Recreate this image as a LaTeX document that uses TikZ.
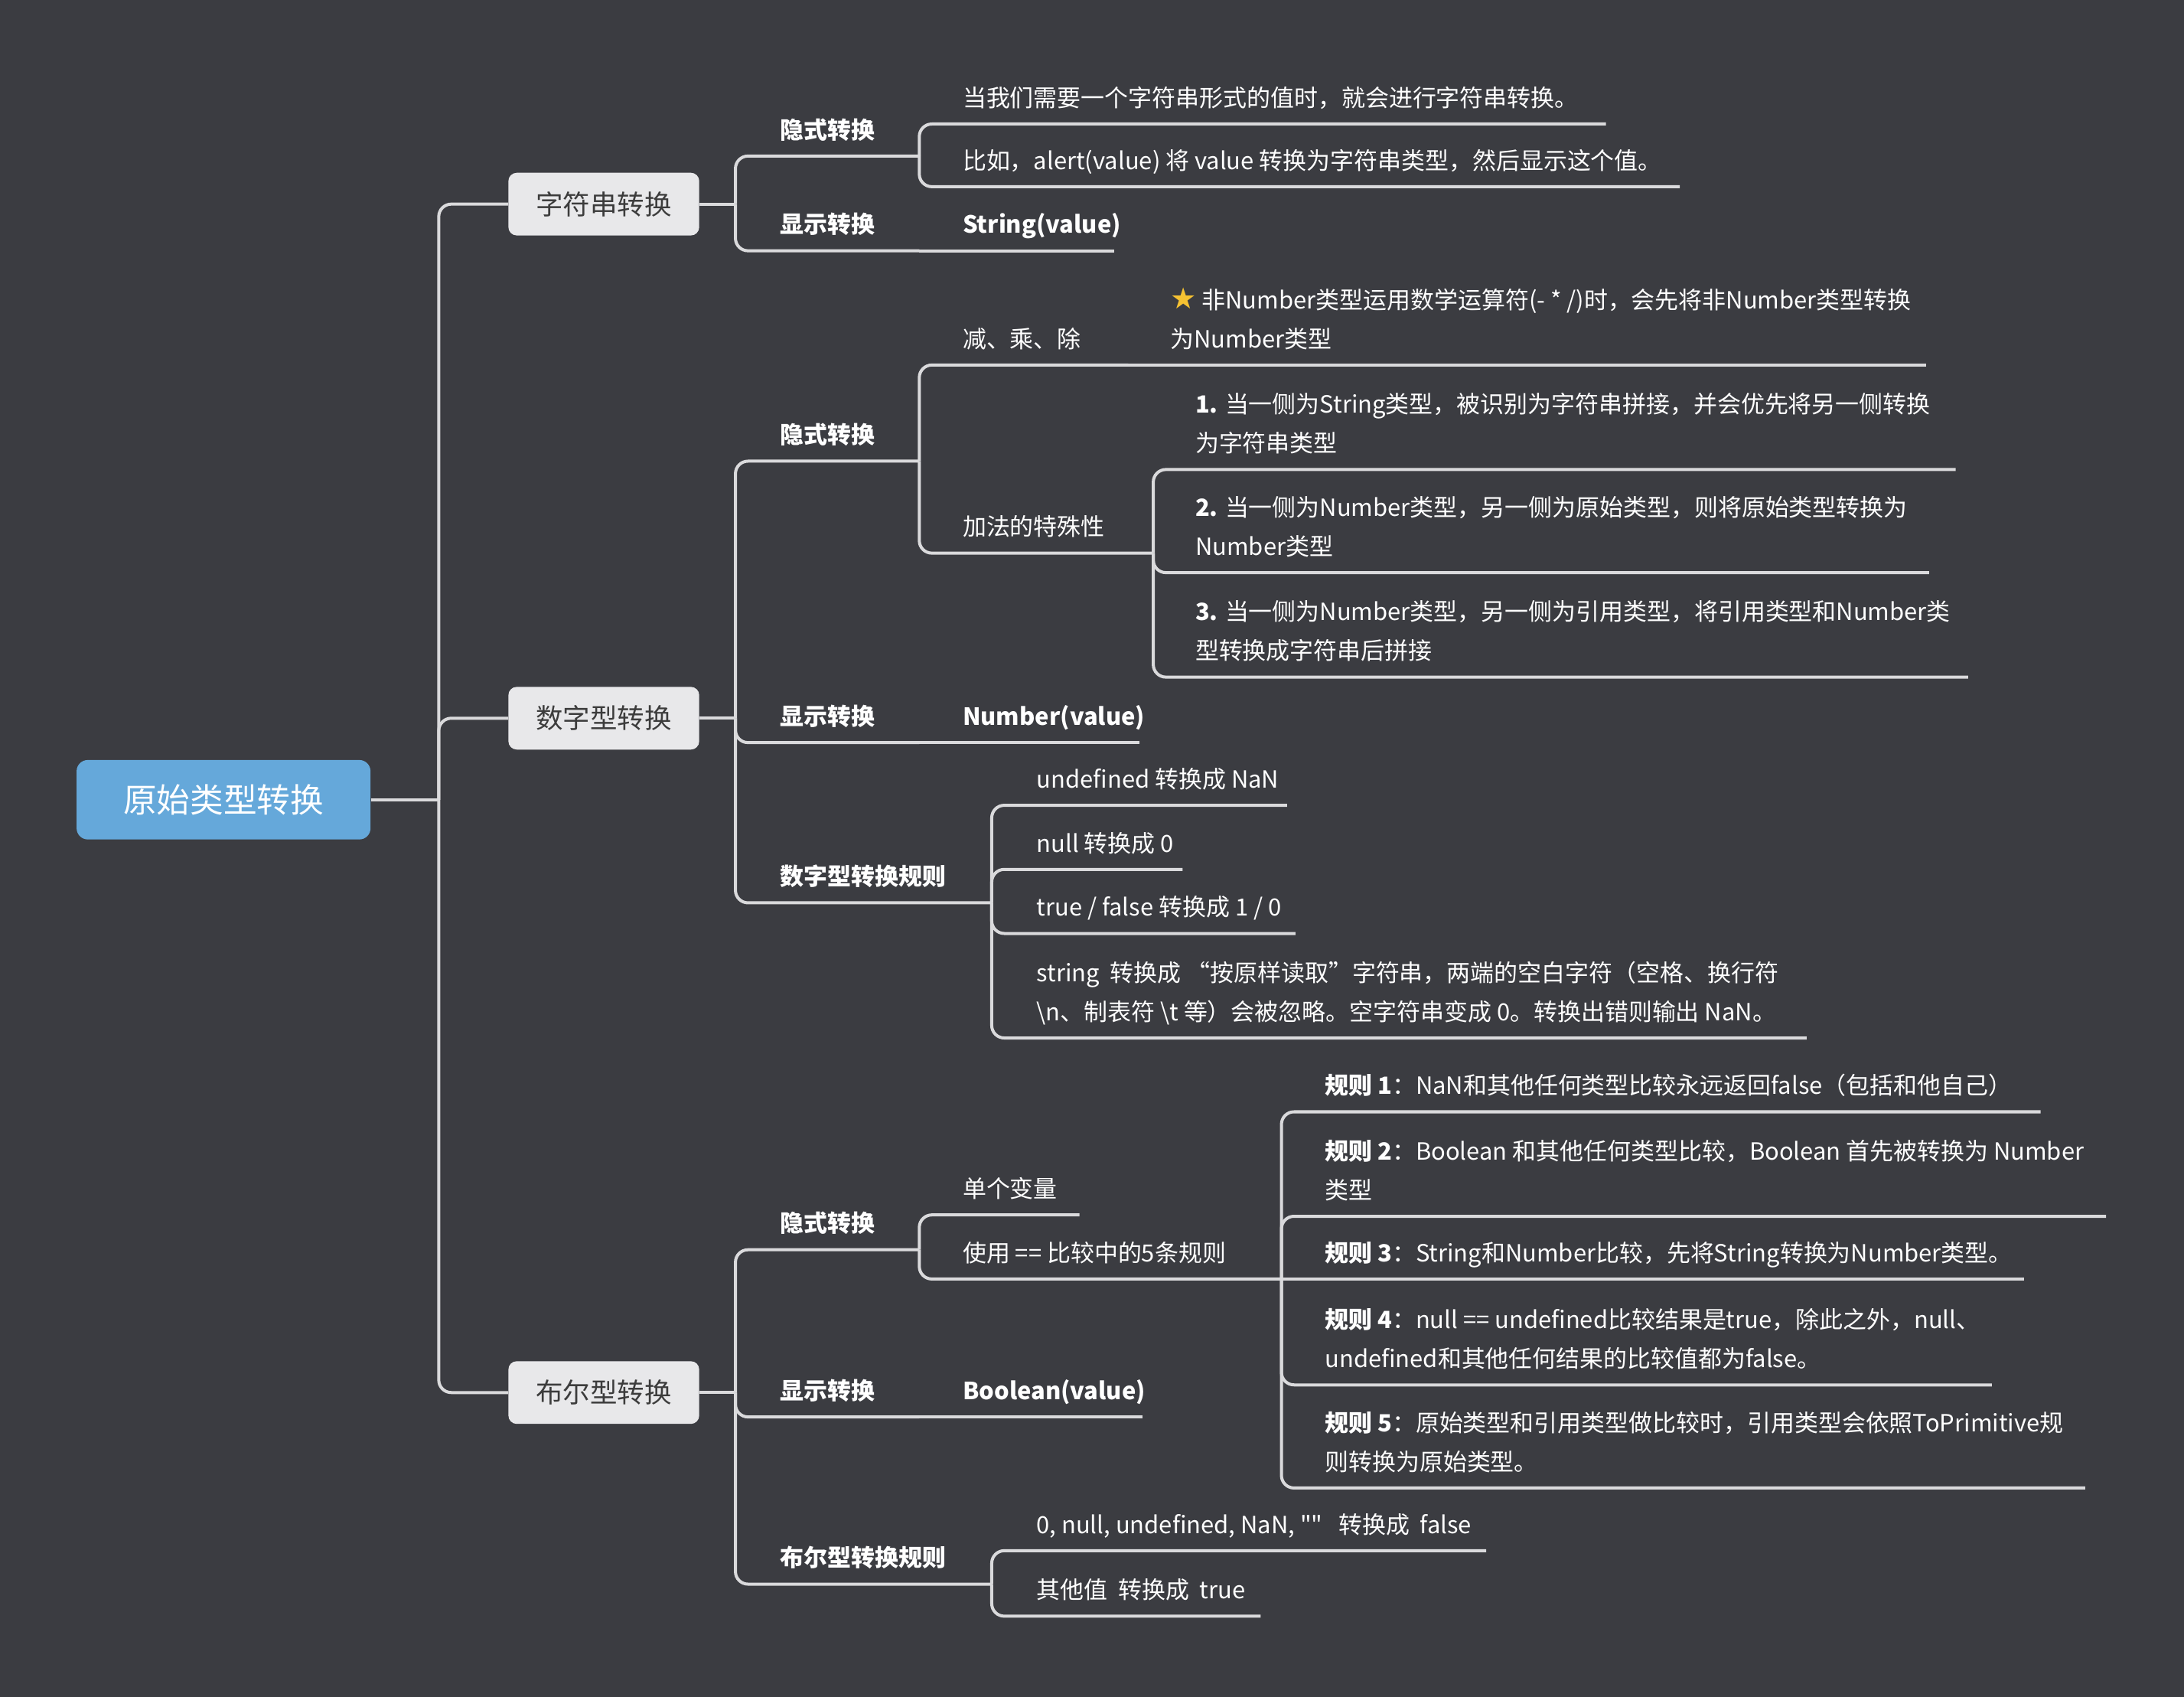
\documentclass[tikz,border=0pt]{standalone}
\usepackage{fontspec}
\setmainfont{Noto Sans CJK SC}
\newfontfamily\rawfont{Noto Sans CJK SC}
\newfontfamily\symfont{DejaVu Sans}
\definecolor{bgdark}{HTML}{3B3C41}
\definecolor{linegray}{HTML}{DADADC}
\definecolor{rootblue}{HTML}{65A8DA}
\definecolor{boxgray}{HTML}{E8E8EA}
\definecolor{boxtext}{HTML}{3C3C3C}
\definecolor{stary}{HTML}{F6C232}
\tikzset{
  link/.style={draw=linegray,line width=2.2pt,rounded corners=9pt},
  rootbox/.style={fill=rootblue,text=white,rounded corners=8pt,minimum width=211pt,minimum height=57pt,font=\fontsize{24}{28}\selectfont},
  mainbox/.style={fill=boxgray,text=boxtext,rounded corners=6pt,minimum width=137pt,minimum height=45pt,font=\fontsize{19.5}{24}\selectfont},
  subtopic/.style={anchor=base west,inner sep=0pt,text=white,font=\fontsize{17}{28}\selectfont\bfseries},
  leaf/.style={anchor=base west,inner sep=0pt,text=white,align=left,font=\fontsize{17}{28}\selectfont},
}
\begin{document}
\begin{tikzpicture}[x=1pt,y=-1pt]
  \useasboundingbox (0,0) rectangle (1568,1217.5);
  \fill[bgdark] (-5,-5) rectangle (1573,1223);
  % root and first level
  \node[rootbox] (root) at (160.5,574) {原始类型转换};
  \coordinate (hub) at (315,574);
  \node[mainbox] (str) at (433.5,146.5) {字符串转换};
  \node[mainbox] (num) at (433.5,515.5) {数字型转换};
  \node[mainbox] (bool) at (433.5,999.5) {布尔型转换};
  \coordinate (str-j) at (528,146.5);
  \coordinate (num-j) at (528,515.5);
  \coordinate (bool-j) at (528,999.5);
  \draw[link] (root) -- (hub);
  \draw[link] (hub) |- (str);
  \draw[link] (hub) |- (num);
  \draw[link] (hub) |- (bool);
  \draw[link] (str) -- (str-j);
  \draw[link] (num) -- (num-j);
  \draw[link] (bool) -- (bool-j);

  % string
  \node[subtopic] (s-imp-t) at (560,99.5) {隐式转换};
  \coordinate (s-imp) at (660,112);
  \node[subtopic] (s-exp-t) at (560,167.5) {显示转换};
  \coordinate (s-exp) at (660,180);
  \node[leaf] (s-imp-1-t) at (691,76.5) {当我们需要一个字符串形式的值时，就会进行字符串转换。};
  \coordinate (s-imp-1) at (1153,89);
  \node[leaf] (s-imp-2-t) at (691,121.5) {比如，alert(value) 将 value 转换为字符串类型，然后显示这个值。};
  \coordinate (s-imp-2) at (1206,134);
  \node[subtopic] (s-exp-1-t) at (691,167.5) {String(value)};
  \coordinate (s-exp-1) at (800,180);
  \draw[link] (str-j) |- (s-imp);
  \draw[link] (str-j) |- (s-exp);
  \draw[link] (s-imp) |- (s-imp-1);
  \draw[link] (s-imp) |- (s-imp-2);
  \draw[link] (s-exp) -- (s-exp-1);

  % number
  \node[subtopic] (n-imp-t) at (560,318.5) {隐式转换};
  \coordinate (n-imp) at (660,331);
  \node[subtopic] (n-exp-t) at (560,520.5) {显示转换};
  \coordinate (n-exp) at (660,533);
  \node[subtopic] (n-rule-t) at (560,635.5) {数字型转换规则};
  \coordinate (n-rule) at (712,648);
  \node[leaf] (n-sub-t) at (691,249.5) {减、乘、除};
  \coordinate (n-sub) at (810,262);
  \node[leaf] (n-sub-1-t) at (840,249.5) {{\symfont\fontsize{21}{28}\selectfont\color{stary}★} 非Number类型运用数学运算符(- * /)时，会先将非Number类型转换\\为Number类型};
  \coordinate (n-sub-1) at (1383,262);
  \node[leaf] (n-add-t) at (691,384.5) {加法的特殊性};
  \coordinate (n-add) at (828,397);
  \node[leaf] (n-add-1-t) at (858,324.5) {\textbf{1.} 当一侧为String类型，被识别为字符串拼接，并会优先将另一侧转换\\为字符串类型};
  \coordinate (n-add-1) at (1404,337);
  \node[leaf] (n-add-2-t) at (858,398.5) {\textbf{2.} 当一侧为Number类型，另一侧为原始类型，则将原始类型转换为\\Number类型};
  \coordinate (n-add-2) at (1385,411);
  \node[leaf] (n-add-3-t) at (858,473.5) {\textbf{3.} 当一侧为Number类型，另一侧为引用类型，将引用类型和Number类\\型转换成字符串后拼接};
  \coordinate (n-add-3) at (1413,486);
  \node[subtopic] (n-exp-1-t) at (691,520.5) {Number(value)};
  \coordinate (n-exp-1) at (818,533);
  \node[leaf] (n-rule-1-t) at (744,565.5) {undefined 转换成 NaN};
  \coordinate (n-rule-1) at (924,578);
  \node[leaf] (n-rule-2-t) at (744,611.5) {null 转换成 0};
  \coordinate (n-rule-2) at (849,624);
  \node[leaf] (n-rule-3-t) at (744,657.5) {true / false 转换成 1 / 0};
  \coordinate (n-rule-3) at (930,670);
  \node[leaf] (n-rule-4-t) at (744,732.5) {string\ \ 转换成 “按原样读取”字符串，两端的空白字符（空格、换行符\\\textbackslash n、制表符 \textbackslash t 等）会被忽略。空字符串变成 0。转换出错则输出 NaN。};
  \coordinate (n-rule-4) at (1297,745);
  \draw[link] (num-j) |- (n-imp);
  \draw[link] (num-j) |- (n-exp);
  \draw[link] (num-j) |- (n-rule);
  \draw[link] (n-imp) |- (n-sub);
  \draw[link] (n-imp) |- (n-add);
  \draw[link] (n-sub) -- (n-sub-1);
  \draw[link] (n-add) |- (n-add-1);
  \draw[link] (n-add) |- (n-add-2);
  \draw[link] (n-add) |- (n-add-3);
  \draw[link] (n-exp) -- (n-exp-1);
  \draw[link] (n-rule) |- (n-rule-1);
  \draw[link] (n-rule) |- (n-rule-2);
  \draw[link] (n-rule) |- (n-rule-3);
  \draw[link] (n-rule) |- (n-rule-4);

  % boolean
  \node[subtopic] (b-imp-t) at (560,884.5) {隐式转换};
  \coordinate (b-imp) at (660,897);
  \node[subtopic] (b-exp-t) at (560,1004.5) {显示转换};
  \coordinate (b-exp) at (660,1017);
  \node[subtopic] (b-rule-t) at (560,1124.5) {布尔型转换规则};
  \coordinate (b-rule) at (712,1137);
  \node[leaf] (b-one-t) at (691,859.5) {单个变量};
  \coordinate (b-one) at (775,872);
  \node[leaf] (b-cmp-t) at (691,905.5) {使用 == 比较中的5条规则};
  \coordinate (b-cmp) at (920,918);
  \node[leaf] (b-cmp-1-t) at (951,785.5) {\textbf{规则 1}：NaN和其他任何类型比较永远返回false（包括和他自己）};
  \coordinate (b-cmp-1) at (1465,798);
  \node[leaf] (b-cmp-2-t) at (951,860.5) {\textbf{规则 2}：Boolean 和其他任何类型比较，Boolean 首先被转换为 Number\\类型};
  \coordinate (b-cmp-2) at (1512,873);
  \node[leaf] (b-cmp-3-t) at (951,905.5) {\textbf{规则 3}：String和Number比较，先将String转换为Number类型。};
  \coordinate (b-cmp-3) at (1453,918);
  \node[leaf] (b-cmp-4-t) at (951,981.5) {\textbf{规则 4}：null == undefined比较结果是true，除此之外，null、\\undefined和其他任何结果的比较值都为false。};
  \coordinate (b-cmp-4) at (1430,994);
  \node[leaf] (b-cmp-5-t) at (951,1055.5) {\textbf{规则 5}：原始类型和引用类型做比较时，引用类型会依照ToPrimitive规\\则转换为原始类型。};
  \coordinate (b-cmp-5) at (1497,1068);
  \node[subtopic] (b-exp-1-t) at (691,1004.5) {Boolean(value)};
  \coordinate (b-exp-1) at (820,1017);
  \node[leaf] (b-rule-1-t) at (744,1100.5) {0, null, undefined, NaN, {\rawfont ""}\ \ \ 转换成\ \ false};
  \coordinate (b-rule-1) at (1067,1113);
  \node[leaf] (b-rule-2-t) at (744,1147.5) {其他值\ \ 转换成\ \ true};
  \coordinate (b-rule-2) at (905,1160);
  \draw[link] (bool-j) |- (b-imp);
  \draw[link] (bool-j) |- (b-exp);
  \draw[link] (bool-j) |- (b-rule);
  \draw[link] (b-imp) |- (b-one);
  \draw[link] (b-imp) |- (b-cmp);
  \draw[link] (b-cmp) |- (b-cmp-1);
  \draw[link] (b-cmp) |- (b-cmp-2);
  \draw[link] (b-cmp) -- (b-cmp-3);
  \draw[link] (b-cmp) |- (b-cmp-4);
  \draw[link] (b-cmp) |- (b-cmp-5);
  \draw[link] (b-exp) -- (b-exp-1);
  \draw[link] (b-rule) |- (b-rule-1);
  \draw[link] (b-rule) |- (b-rule-2);
\end{tikzpicture}
\end{document}
